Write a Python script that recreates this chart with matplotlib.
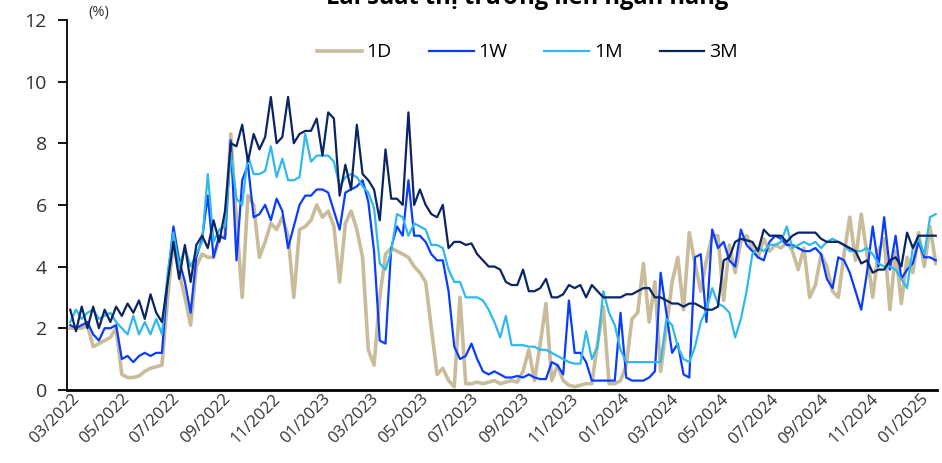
import matplotlib
matplotlib.use("Agg")
import matplotlib.pyplot as plt
import matplotlib.dates as mdates
import matplotlib.transforms as mtransforms
import pandas as pd

plt.rcParams['font.family'] = ['Open Sans', 'DejaVu Sans']

# weekly readings, starting 01/03/2022
dates = pd.date_range("2022-03-01", periods=152, freq="7D")

rate_1d = [
    2.0, 2.0, 2.0, 2.1, 1.4, 1.5, 1.6, 1.7, 2.0, 0.5, 0.4, 0.4, 0.45, 0.6, 0.7, 0.75, 0.8, 3.0, 4.8, 3.8, 3.0, 2.1,
    4.0, 4.4, 4.3, 4.3, 4.9, 5.0, 8.3, 5.5, 3.0, 6.3, 6.0, 4.3, 4.8, 5.4, 5.2, 5.6, 5.0, 3.0, 5.2, 5.3, 5.5, 6.0,
    5.6, 5.8, 5.3, 3.5, 5.4, 5.8, 5.2, 4.3, 1.3, 0.8, 3.0, 4.4, 4.6, 4.5, 4.4, 4.3, 4.0, 3.8, 3.5, 2.0, 0.5, 0.7,
    0.3, 0.1, 3.0, 0.2, 0.2, 0.25, 0.2, 0.25, 0.3, 0.2, 0.25, 0.3, 0.25, 0.6, 1.3, 0.3, 1.5, 2.8, 0.3, 0.8, 0.3,
    0.15, 0.1, 0.15, 0.2, 0.2, 1.5, 2.7, 0.2, 0.2, 0.3, 0.8, 2.3, 2.5, 4.1, 2.2, 3.5, 0.6, 2.0, 3.5, 4.3, 2.6, 5.1,
    4.1, 3.2, 4.2, 5.0, 5.0, 2.9, 4.7, 3.8, 4.8, 5.0, 4.6, 4.3, 4.9, 4.5, 4.7, 4.6, 4.8, 4.5, 3.9, 4.6, 3.0, 3.4,
    4.4, 4.0, 3.2, 3.0, 4.4, 5.6, 4.2, 5.7, 4.4, 3.0, 4.5, 4.9, 2.6, 4.5, 2.8, 4.3, 3.8, 5.1, 4.0, 5.3, 4.1,
]

rate_1w = [
    2.1, 2.0, 2.1, 2.2, 1.8, 1.6, 2.0, 2.0, 2.1, 1.0, 1.1, 0.9, 1.1, 1.2, 1.1, 1.2, 1.2, 3.6, 5.3, 4.2, 3.5, 2.5,
    4.3, 4.9, 6.3, 4.3, 5.0, 4.9, 8.1, 4.2, 6.8, 7.3, 5.6, 5.7, 6.0, 5.5, 6.2, 5.8, 4.6, 5.3, 6.0, 6.3, 6.3, 6.5,
    6.5, 6.4, 5.8, 5.2, 6.4, 6.5, 6.6, 6.8, 6.1, 4.5, 1.6, 1.5, 4.6, 5.3, 5.0, 6.8, 5.0, 5.0, 4.8, 4.4, 4.2, 4.2,
    3.2, 1.4, 1.0, 1.1, 1.5, 1.0, 0.6, 0.5, 0.6, 0.5, 0.4, 0.4, 0.45, 0.4, 0.5, 0.4, 0.35, 0.35, 0.9, 0.8, 0.5,
    2.9, 1.2, 1.2, 0.9, 0.3, 0.3, 0.3, 0.3, 0.3, 2.5, 0.4, 0.3, 0.3, 0.3, 0.4, 0.6, 3.8, 2.5, 1.2, 1.5, 0.5, 0.4,
    4.3, 4.4, 2.2, 5.2, 4.6, 4.8, 4.2, 4.0, 5.2, 4.7, 4.5, 4.3, 4.2, 4.8, 5.0, 4.9, 4.7, 4.7, 4.6, 4.5, 4.5, 4.6,
    4.4, 3.6, 3.3, 4.3, 4.2, 3.8, 3.2, 2.6, 3.8, 5.3, 4.0, 5.6, 3.9, 5.0, 3.6, 3.9, 4.1, 4.8, 4.3, 4.3, 4.2,
]

rate_1m = [
    2.2, 2.6, 2.3, 2.5, 2.6, 2.3, 2.4, 2.5, 2.2, 2.0, 1.8, 2.4, 1.8, 2.2, 1.8, 2.3, 1.8, 3.8, 5.1, 4.0, 4.6, 4.0,
    4.4, 4.8, 7.0, 4.8, 5.2, 5.3, 7.7, 6.2, 6.0, 7.6, 7.0, 7.0, 7.1, 7.9, 6.9, 7.5, 6.8, 6.8, 6.9, 8.3, 7.4, 7.6,
    7.6, 7.6, 7.4, 6.6, 6.9, 7.0, 6.9, 6.6, 6.4, 5.9, 4.1, 3.9, 4.5, 5.7, 5.6, 5.0, 5.4, 5.3, 5.2, 4.7, 4.7, 4.6,
    3.9, 3.5, 3.5, 3.0, 3.0, 3.0, 2.9, 2.6, 2.2, 1.7, 2.4, 1.45, 1.45, 1.45, 1.4, 1.4, 1.3, 1.3, 1.2, 1.1, 1.0,
    0.9, 0.85, 0.85, 1.9, 1.0, 1.4, 3.2, 2.5, 2.1, 1.3, 0.9, 0.9, 0.9, 0.9, 0.9, 0.9, 0.9, 2.3, 2.1, 1.4, 1.0, 0.9,
    1.4, 2.2, 2.6, 3.3, 2.8, 2.7, 2.5, 1.7, 2.3, 3.2, 4.4, 4.6, 4.5, 4.7, 4.7, 4.8, 5.3, 4.6, 4.7, 4.8, 4.7, 4.8,
    4.6, 4.8, 4.9, 4.8, 4.7, 4.5, 4.5, 4.5, 4.6, 4.4, 4.1, 4.0, 4.0, 3.9, 3.6, 3.3, 4.6, 4.9, 4.4, 5.6, 5.7,
]

rate_3m = [
    2.6, 1.9, 2.7, 2.0, 2.7, 2.0, 2.6, 2.2, 2.7, 2.4, 2.8, 2.5, 2.9, 2.3, 3.1, 2.5, 2.2, 3.5, 4.8, 3.6, 4.7, 3.5,
    4.7, 5.0, 4.6, 5.5, 4.8, 5.8, 8.0, 7.9, 8.6, 7.4, 8.3, 7.8, 8.2, 9.5, 8.0, 8.2, 9.5, 8.0, 8.3, 8.4, 8.4, 8.8,
    7.6, 9.0, 8.8, 6.3, 7.3, 6.5, 8.6, 7.0, 6.8, 6.5, 5.5, 7.8, 6.2, 6.2, 6.0, 9.0, 6.0, 6.5, 6.0, 5.7, 5.6, 6.0,
    4.6, 4.8, 4.8, 4.7, 4.75, 4.4, 4.2, 4.0, 4.0, 3.9, 3.5, 3.4, 3.4, 3.9, 3.2, 3.2, 3.3, 3.6, 3.0, 3.0, 3.1,
    3.4, 3.3, 3.4, 3.0, 3.4, 3.2, 3.0, 3.0, 3.0, 3.0, 3.1, 3.1, 3.2, 3.3, 3.3, 3.0, 3.0, 2.9, 2.8, 2.8, 2.7, 2.8,
    2.8, 2.7, 2.6, 2.6, 2.7, 4.2, 4.3, 4.8, 4.9, 4.85, 4.8, 4.5, 5.2, 5.0, 5.0, 5.0, 4.8, 5.0, 5.1, 5.1, 5.1, 5.1,
    4.9, 4.8, 4.8, 4.8, 4.7, 4.6, 4.5, 4.1, 4.2, 3.8, 3.9, 3.9, 4.2, 4.3, 4.0, 5.1, 4.6, 5.0, 5.0, 5.0, 5.0,
]

fig = plt.figure(figsize=(9.42, 4.63), dpi=100)
ax = fig.add_axes([0.0711, 0.158, 0.924, 0.799])

ax.plot(dates, rate_1d, color="#c8bc9b", lw=2.6, label="1D")
ax.plot(dates, rate_1w, color="#0a3cff", lw=1.6, label="1W")
ax.plot(dates, rate_1m, color="#2fb9ec", lw=1.6, label="1M")
ax.plot(dates, rate_3m, color="#0b2464", lw=1.6, label="3M")

ax.set_ylim(0, 12)
ax.set_yticks(range(0, 13, 2))
ax.set_xlim(pd.Timestamp("2022-02-25"), pd.Timestamp("2025-01-23"))
ax.xaxis.set_major_locator(mdates.MonthLocator(bymonth=[1, 3, 5, 7, 9, 11]))
ax.xaxis.set_major_formatter(mdates.DateFormatter("%m/%Y"))

for s in ["top", "right"]:
    ax.spines[s].set_visible(False)
ax.spines["left"].set_linewidth(1.3)
ax.spines["bottom"].set_linewidth(2.0)

ax.tick_params(axis="y", length=6.5, width=1.3, labelsize=14, colors="black", labelcolor="#333333", pad=8)
ax.tick_params(axis="x", length=0, labelsize=12, labelcolor="#333333", pad=5)
shift = mtransforms.ScaledTranslation(0.07, 0, fig.dpi_scale_trans)
for lbl in ax.get_xticklabels():
    lbl.set_rotation(45)
    lbl.set_ha("right")
    lbl.set_va("center")
    lbl.set_rotation_mode("anchor")
    lbl.set_transform(lbl.get_transform() + shift)

ax.legend(loc="center", bbox_to_anchor=(0.529, 0.912), ncol=4, frameon=False,
          fontsize=14, handlelength=2.3, handletextpad=0.25, columnspacing=1.9)

fig.text(0.105, 0.974, "(%)", fontsize=10.5, color="#333333", ha="center", va="center")
fig.text(0.56, 0.991, "Lãi suất thị trường liên ngân hàng", fontsize=17, fontweight="bold",
         ha="center", va="baseline")

fig.savefig("out.png", dpi=100)
